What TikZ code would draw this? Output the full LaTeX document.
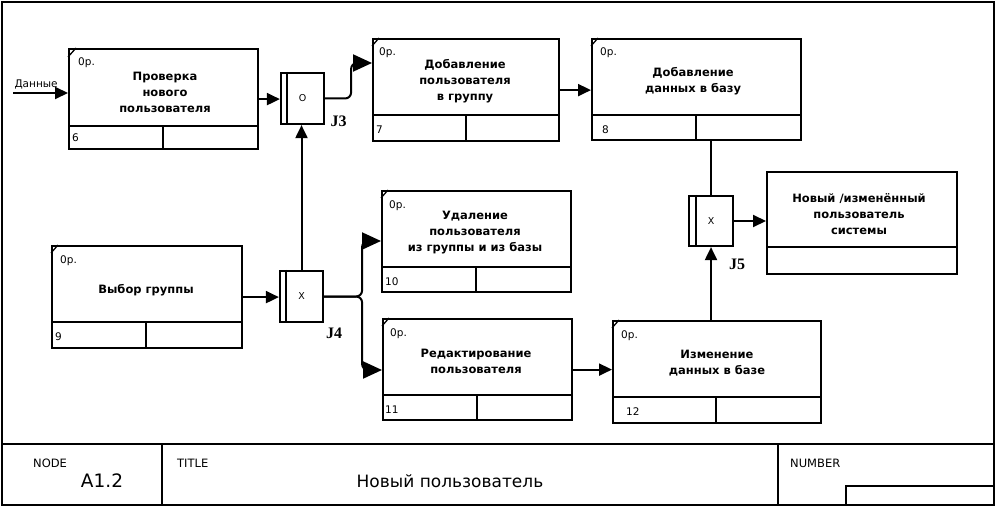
\documentclass[tikz,border=0pt]{standalone}
\usepackage{fontspec}
\setmainfont{DejaVu Sans}
\newfontfamily\jfont{Liberation Serif}
\usetikzlibrary{arrows.meta,positioning}

\tikzset{
  frame/.style={line width=2.2pt, draw=black},
  actbox/.style={rectangle, draw=black, line width=2.2pt, anchor=north west, inner sep=0pt},
  actline/.style={line width=2.2pt},
  tick/.style={line width=1.3pt},
  acttext/.style={align=center, font=\fontsize{11.5}{16}\selectfont\bfseries},
  oplbl/.style={anchor=base west, inner sep=0pt, font=\fontsize{10.5}{12}\selectfont},
  numlbl/.style={anchor=base west, inner sep=0pt, font=\fontsize{10.5}{12}\selectfont},
  junc/.style={rectangle, draw=black, line width=2.2pt, inner sep=0pt, font=\fontsize{9.5}{11}\selectfont},
  jlabel/.style={inner sep=0pt, font=\fontsize{16}{18}\selectfont\jfont\bfseries},
  small/.style={inner sep=0pt, anchor=west, font=\fontsize{11.5}{13}\selectfont},
  flow/.style={line width=2pt, -{Triangle[length=13pt, width=12pt]}},
  bigflow/.style={line width=2pt, rounded corners=6pt, -{Triangle[length=19pt, width=17pt]}},
}

\begin{document}
\begin{tikzpicture}[x=1pt, y=-1pt]
  \useasboundingbox (0,0) rectangle (998,508);
  % frame and title block
  \draw [frame] (2,2) rectangle (994,505);
  \draw [frame] (2,444) -- (994,444);
  \draw [frame] (162,444) -- (162,505);
  \draw [frame] (778,444) -- (778,505);
  \draw [frame] (846,505) |- (994,486);
  \node (nodehd) [small] at (33,463) {NODE};
  \node (nodeno) [inner sep=0pt, font=\fontsize{18.5}{20}\selectfont] at (102,481) {A1.2};
  \node (titlehd) [small] at (177,463) {TITLE};
  \node (titletx) [inner sep=0pt, font=\fontsize{17}{19}\selectfont] at (450,481) {Новый пользователь};
  \node (numhd) [small] at (790,463) {NUMBER};

  % activity 6
  \node (p6) [actbox, minimum width=189pt, minimum height=100pt] at (68,48) {};
  \draw [actline] (68,126) -- (257,126) (163,126) -- (163,148);
  \draw [tick] (68,57) -- (76,48);
  \node (o6) [oplbl] at (78,66) {0р.};
  \node (n6) [numlbl] at (72,142) {6};
  \node (t6) [acttext] at (165,92) {Проверка\\нового\\пользователя};

  % activity 7
  \node (p7) [actbox, minimum width=186pt, minimum height=102pt] at (372,38) {};
  \draw [actline] (372,115) -- (558,115) (466,115) -- (466,140);
  \draw [tick] (372,46) -- (379,38);
  \node (o7) [oplbl] at (379,56) {0р.};
  \node (n7) [numlbl] at (376,133) {7};
  \node (t7) [acttext] at (465,81) {Добавление\\пользователя\\в группу};

  % activity 8
  \node (p8) [actbox, minimum width=209pt, minimum height=101pt] at (591,38) {};
  \draw [actline] (591,115) -- (800,115) (696,115) -- (696,139);
  \draw [tick] (591,46) -- (598,38);
  \node (o8) [oplbl] at (600,56) {0р.};
  \node (n8) [numlbl] at (602,133) {8};
  \node (t8) [acttext] at (693,81) {Добавление\\данных в базу};

  % activity 9
  \node (p9) [actbox, minimum width=190pt, minimum height=102pt] at (51,245) {};
  \draw [actline] (51,322) -- (241,322) (146,322) -- (146,347);
  \draw [tick] (51,253) -- (58,245);
  \node (o9) [oplbl] at (60,263) {0р.};
  \node (n9) [numlbl] at (55,340) {9};
  \node (t9) [acttext] at (146,290) {Выбор группы};

  % activity 10
  \node (p10) [actbox, minimum width=189pt, minimum height=101pt] at (381,190) {};
  \draw [actline] (381,267) -- (570,267) (476,267) -- (476,291);
  \draw [tick] (381,198) -- (388,190);
  \node (o10) [oplbl] at (389,208) {0р.};
  \node (n10) [numlbl] at (385,285) {10};
  \node (t10) [acttext] at (475,233) {Удаление\\пользователя\\из группы и из базы};

  % activity 11
  \node (p11) [actbox, minimum width=189pt, minimum height=101pt] at (382,318) {};
  \draw [actline] (382,395) -- (571,395) (477,395) -- (477,419);
  \draw [tick] (382,326) -- (389,318);
  \node (o11) [oplbl] at (390,336) {0р.};
  \node (n11) [numlbl] at (385,413) {11};
  \node (t11) [acttext] at (476,361) {Редактирование\\пользователя};

  % activity 12
  \node (p12) [actbox, minimum width=208pt, minimum height=102pt] at (612,320) {};
  \draw [actline] (612,397) -- (820,397) (716,397) -- (716,422);
  \draw [tick] (612,328) -- (619,320);
  \node (o12) [oplbl] at (621,338) {0р.};
  \node (n12) [numlbl] at (626,415) {12};
  \node (t12) [acttext] at (717,363) {Изменение\\данных в базе};

  % output
  \node (nov) [actbox, minimum width=190pt, minimum height=102pt] at (766,171) {};
  \draw [actline] (766,247) -- (956,247);
  \node (tnov) [acttext] at (859,214) {Новый /изменённый\\пользователь\\системы};

  % junctions
  \node (j3) [junc, minimum width=43pt, minimum height=51pt] at (302.5,98.5) {O};
  \draw [actline] ([xshift=7pt]j3.north west) -- ([xshift=7pt]j3.south west);
  \node (l3) [jlabel] at (338.5,121.5) {J3};
  \node (j4) [junc, minimum width=43pt, minimum height=51pt] at (301.5,296.5) {X};
  \draw [actline] ([xshift=7pt]j4.north west) -- ([xshift=7pt]j4.south west);
  \node (l4) [jlabel] at (334,333) {J4};
  \node (j5) [junc, minimum width=44pt, minimum height=50pt] at (711,221) {X};
  \draw [actline] ([xshift=8pt]j5.north west) -- ([xshift=8pt]j5.south west);
  \node (l5) [jlabel] at (737,264) {J5};

  % arrows
  \coordinate (datain) at (13,93);
  \draw [flow] (datain) -- node[pos=0.42, above=0pt, font=\fontsize{10.5}{12}\selectfont] {Данные} (datain -| p6.west);
  \draw [flow] (p6.east) -- (p6.east -| j3.west);
  \draw [bigflow] (j3.east) -- ++(26,0) |- ([yshift=-25pt]p7.north west);
  \draw [flow] (p7.east) -- (p7.east -| p8.west);
  \draw [flow] (p9.east) -- (p9.east -| j4.west);
  \draw [flow] (j4.north) -- (j4.north |- j3.south);
  \draw [bigflow] (j4.east) -- ++(38,0) |- ([yshift=-51pt]p10.north west);
  \draw [bigflow] (j4.east) -- ++(38,0) |- ([yshift=-52pt]p11.north west);
  \draw [flow] (p11.east) -- (p11.east -| p12.west);
  \draw [actline] (j5.north |- p8.south) -- (j5.north);
  \draw [flow] (j5.south |- p12.north) -- (j5.south);
  \draw [flow] (j5.east) -- (j5.east -| nov.west);
\end{tikzpicture}
\end{document}
